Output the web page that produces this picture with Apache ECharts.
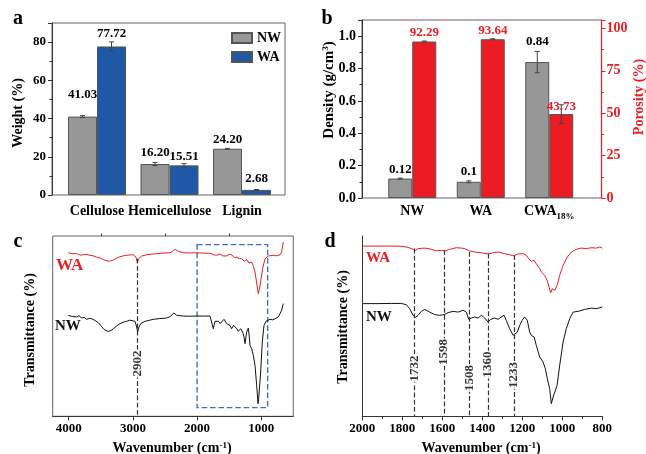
<!DOCTYPE html>
<html><head><meta charset="utf-8">
<script src="https://cdn.jsdelivr.net/npm/echarts@6/dist/echarts.min.js"></script>
<style>html,body{margin:0;padding:0;background:#fff}#c{width:646px;height:454px}</style>
</head><body><div id="c"></div>
<script>
const FONT = "'Liberation Serif','Times New Roman',serif";
const RED = '#ec1c24', GRAY = '#979797', BLUE = '#1e58a7', DARK = '#333';

// ---------- Panel a ----------
const categoriesA = ['Cellulose', 'Hemicellulose', 'Lignin'];
const nwA = [41.03, 16.20, 24.20];
const waA = [77.72, 15.51, 2.68];
const nwAErr = [0.5, 0.8, 0.2];
const waAErr = [2.4, 0.9, 0.2];

// ---------- Panel b ----------
const categoriesB = ['NW', 'WA', 'CWA'];
const categoriesBSub = ['', '', '18%'];
const densityB = [0.12, 0.10, 0.84];
const densityBErr = [0.003, 0.006, 0.066];
const densityBLabels = ['0.12', '0.1', '0.84'];
const porosityB = [92.29, 93.64, 49.5];
const porosityBErr = [0.3, 0.3, 5.5];
const porosityBLabels = ['92.29', '93.64', '43.73'];

// ---------- Panel c (FTIR full range) ----------
const cTicks = [1000, 2000, 3000, 4000];
const cMinorTicks = [1500, 2500, 3500];
const cWA = [[4006,90.7],[3950,90.2],[3876,90.2],[3820,89.4],[3772,89.6],[3720,89.8],[3669,89.3],[3620,89.0],[3565,88.3],[3510,87.8],[3461,86.9],[3420,86.3],[3383,86.1],[3340,86.2],[3305,86.7],[3250,87.8],[3201,88.5],[3150,89.0],[3097,89.3],[3040,89.5],[2993,89.6],[2952,88.3],[2931,85.2],[2910,87.4],[2863,88.9],[2785,89.6],[2700,90.0],[2630,90.2],[2530,90.5],[2422,90.7],[2380,91.5],[2344,92.6],[2292,91.5],[2214,90.7],[2120,90.6],[2017,90.7],[1900,90.5],[1798,90.4],[1740,89.6],[1695,89.3],[1643,90.0],[1600,89.0],[1539,88.9],[1500,89.8],[1461,89.6],[1420,88.0],[1383,88.3],[1340,87.5],[1305,87.4],[1260,86.0],[1227,87.0],[1190,85.0],[1149,85.6],[1120,83.0],[1097,80.0],[1061,71.7],[1045,68.0],[1019,72.6],[978,81.9],[941,87.4],[889,88.9],[811,89.3],[760,89.0],[707,89.6],[682,91.1],[656,96.7]];
const cNW = [[4006,56.0],[3950,55.4],[3876,55.1],[3840,55.8],[3798,54.5],[3760,54.9],[3721,53.8],[3680,54.3],[3643,54.1],[3591,53.2],[3539,51.9],[3500,50.3],[3461,48.6],[3420,47.5],[3383,47.1],[3340,47.6],[3305,48.6],[3250,50.2],[3201,51.4],[3150,52.2],[3097,52.7],[3050,53.3],[3019,53.8],[2967,52.7],[2941,49.5],[2926,46.7],[2905,49.5],[2879,51.4],[2811,52.7],[2750,53.2],[2682,53.8],[2580,54.2],[2474,54.5],[2420,55.3],[2396,56.0],[2360,57.3],[2318,56.0],[2214,55.6],[2100,55.5],[2017,55.6],[1900,55.6],[1798,55.6],[1772,54.5],[1747,48.6],[1720,52.7],[1669,52.7],[1640,51.5],[1617,50.4],[1580,53.8],[1539,51.4],[1510,52.0],[1487,50.4],[1461,48.6],[1430,50.5],[1409,49.5],[1380,48.5],[1357,47.1],[1320,48.6],[1289,46.7],[1265,43.5],[1253,40.3],[1227,46.7],[1201,48.9],[1185,44.0],[1175,39.3],[1149,37.5],[1123,33.8],[1097,28.3],[1071,17.2],[1050,7.0],[1040,9.5],[1030,8.8],[1009,24.6],[983,41.2],[957,50.4],[926,52.7],[900,53.5],[863,53.8],[820,53.5],[785,54.1],[760,54.6],[733,55.1],[707,54.5],[682,58.8],[656,62.5]];
const boxC = [[2000, 95.2], [900, 4.8]];
const peaksC = [2925];
const peaksCLabels = ['2902'];
const peaksCTop = [87.4];
const peaksCLabelY = [29.3];

// ---------- Panel d (FTIR 2000-800) ----------
const dWA = [[1996,94.4],[1921,94.4],[1855,94.4],[1805,94.3],[1771,93.7],[1746,92.6],[1735,92.0],[1721,93.0],[1688,93.3],[1655,92.6],[1630,91.8],[1605,92.0],[1585,91.7],[1563,92.6],[1530,93.5],[1505,93.3],[1488,93.0],[1463,91.7],[1438,91.1],[1405,90.7],[1371,90.0],[1346,90.7],[1321,91.1],[1288,90.2],[1263,89.6],[1241,88.9],[1225,90.0],[1196,90.2],[1180,89.3],[1168,87.4],[1155,85.9],[1141,86.5],[1130,84.6],[1113,81.9],[1105,80.0],[1096,80.9],[1088,78.2],[1076,75.4],[1066,71.7],[1058,68.5],[1050,70.8],[1038,69.8],[1026,72.6],[1013,78.2],[996,83.7],[975,88.3],[955,91.1],[930,92.6],[905,93.3],[880,93.0],[855,93.5],[830,93.3],[813,93.9],[800,93.3]];
const dNW = [[1996,62.5],[1921,62.5],[1855,62.6],[1805,62.6],[1780,61.9],[1763,59.7],[1746,56.0],[1735,54.9],[1721,56.0],[1705,58.2],[1688,59.3],[1663,57.8],[1638,56.4],[1613,56.0],[1591,56.4],[1571,57.5],[1546,58.2],[1521,57.8],[1496,58.8],[1480,57.8],[1468,53.8],[1455,54.5],[1438,55.1],[1421,54.5],[1405,56.0],[1388,54.5],[1371,52.3],[1358,53.8],[1338,54.5],[1321,53.8],[1305,55.1],[1291,56.0],[1280,53.2],[1263,48.6],[1246,44.9],[1238,44.0],[1225,46.7],[1213,50.4],[1201,53.2],[1188,55.1],[1175,53.2],[1163,46.7],[1155,44.9],[1141,44.0],[1130,39.3],[1113,32.9],[1096,30.1],[1085,26.4],[1075,20.9],[1063,15.3],[1055,7.0],[1046,10.7],[1038,9.8],[1026,17.2],[1013,28.3],[996,41.2],[980,48.6],[963,54.1],[946,57.8],[921,58.2],[888,59.3],[855,60.0],[830,59.7],[800,60.6]];
const peaksD = [1738, 1592, 1463, 1371, 1241];
const peaksDLabels = ['1732', '1598', '1508', '1360', '1233'];
const peaksDTop = [93.0, 92.1, 91.1, 90.2, 89.3];
const peaksDLabelY = [26.5, 35.7, 21.2, 28.7, 22.9];

// ---------- styles ----------
const gapNWA = [15, 4.5, 2.7], gapWAA = [6, 1.8, 4.6];
const gapDenB = [2.3, 3.8, 14.3], gapPorB = [2.9, 2.3, 1];
const bold = (size, color) => ({fontFamily: FONT, fontWeight: 'bold', fontSize: size, color: color || '#000'});
const plain = v => String(v);

function errSeries(xi, yi, vals, errs, side, bw) {
  return {
    type: 'custom', xAxisIndex: xi, yAxisIndex: yi, silent: true, z: 1,
    data: vals.map((v, i) => [i, v, errs[i]]),
    renderItem: (params, api) => {
      const i = api.value(0), v = api.value(1), e = api.value(2);
      const t = api.coord([i, v + e]), b = api.coord([i, v - e]);
      const x = t[0] + side * bw / 2, c = 2.5;
      const st = {stroke: '#444', lineWidth: 1};
      return {type: 'group', children: [
        {type: 'line', shape: {x1: x, y1: t[1], x2: x, y2: b[1]}, style: st},
        {type: 'line', shape: {x1: x - c, y1: t[1], x2: x + c, y2: t[1]}, style: st},
        {type: 'line', shape: {x1: x - c, y1: b[1], x2: x + c, y2: b[1]}, style: st}
      ]};
    }
  };
}
function barSeries(name, xi, yi, vals, color, bw, gaps, fmt, labelColor) {
  return {
    name, type: 'bar', xAxisIndex: xi, yAxisIndex: yi, barWidth: bw, barGap: '0%', z: 0,
    itemStyle: {color, borderColor: '#555', borderWidth: 1},
    data: vals.map((v, i) => ({value: v, label: {distance: gaps[i]}})),
    label: Object.assign({show: true, position: 'top', formatter: p => fmt(p.dataIndex)}, bold(13, labelColor))
  };
}
function peakLabelSeries(xi, yi, xs, ys, labels) {
  return {
    type: 'scatter', xAxisIndex: xi, yAxisIndex: yi, symbolSize: 0, silent: true, z: 10,
    data: xs.map((x, i) => [x, ys[i]]),
    label: Object.assign({show: true, position: 'inside', rotate: 90, backgroundColor: '#fff', padding: [0, 1],
      formatter: p => labels[p.dataIndex]}, bold(13))
  };
}
function peakLines(xs, tops) {
  return {
    silent: true, symbol: ['none', 'none'], animation: false,
    lineStyle: {type: 'dashed', color: DARK, width: 1.2},
    label: {show: false},
    data: xs.map((x, i) => [{coord: [x, tops[i]]}, {coord: [x, 0]}])
  };
}
function text(x, y, str, size, color, rot, align, rich) {
  return {type: 'text', x, y, rotation: rot || 0, z: 100,
    style: {text: str, fontFamily: FONT, fontWeight: 'bold', fontSize: size, fill: color || '#000',
      align: align || 'center', verticalAlign: 'middle', rich: rich || {}}};
}
const supRich = {sup: {fontFamily: FONT, fontWeight: 'bold', fontSize: 9, verticalAlign: 'top'}};

const option = {
  animation: false,
  backgroundColor: '#fff',
  grid: [
    {left: 52, top: 23, width: 233, height: 172, show: true, borderColor: '#666', borderWidth: 1},
    {left: 60.75, top: 23, width: 217.5, height: 172},
    {left: 362, top: 20, width: 239.5, height: 178, show: true, borderColor: '#666', borderWidth: 1},
    {left: 378, top: 20, width: 205.5, height: 178},
    {left: 52.7, top: 236, width: 240.6, height: 180.3, show: true, borderColor: '#666', borderWidth: 1},
    {left: 362.3, top: 236, width: 240, height: 180.3}
  ],
  xAxis: [
    {gridIndex: 0, type: 'value', min: 0, max: 1, show: false},
    {gridIndex: 1, type: 'category', data: categoriesA, axisLine: {show: false}, axisTick: {show: false},
      axisLabel: Object.assign({margin: 9, interval: 0, hideOverlap: false}, bold(14))},
    {gridIndex: 2, type: 'value', min: 0, max: 1, show: false},
    {gridIndex: 3, type: 'category', data: categoriesB, axisLine: {show: false}, axisTick: {show: false},
      axisLabel: {margin: 6, interval: 0, hideOverlap: false,
        formatter: (v, i) => categoriesBSub[i] ? '{m|' + v + '}{s|' + categoriesBSub[i] + '}' : '{m|' + v + '}',
        rich: {m: Object.assign({verticalAlign: 'top', lineHeight: 15}, bold(14)),
               s: Object.assign({verticalAlign: 'top', padding: [8, 0, 0, 0], lineHeight: 9}, bold(9))}}},
    {gridIndex: 4, type: 'value', inverse: true, min: 500, max: 4250, splitLine: {show: false},
      axisLine: {lineStyle: {color: DARK}}, axisTick: {customValues: cTicks, length: 4, lineStyle: {color: DARK}},
      axisLabel: Object.assign({customValues: cTicks, margin: 6, formatter: plain}, bold(13))},
    {gridIndex: 4, type: 'value', inverse: true, min: 500, max: 4250, splitLine: {show: false},
      axisLine: {show: false}, axisTick: {customValues: cMinorTicks, length: 2.5, lineStyle: {color: DARK}},
      axisLabel: {show: false, customValues: cMinorTicks}},
    {gridIndex: 5, type: 'value', inverse: true, min: 800, max: 2000, interval: 200, splitLine: {show: false},
      axisLine: {lineStyle: {color: DARK}}, axisTick: {length: 4, lineStyle: {color: DARK}},
      minorTick: {show: true, splitNumber: 2, length: 2.5, lineStyle: {color: DARK}},
      axisLabel: Object.assign({margin: 6, formatter: plain}, bold(13))}
  ],
  yAxis: [
    {gridIndex: 0, type: 'value', min: 0, max: 90, interval: 20, splitLine: {show: false},
      axisLine: {show: true, lineStyle: {color: DARK}}, axisTick: {length: 4, lineStyle: {color: DARK}},
      minorTick: {show: true, splitNumber: 2, length: 2.5, lineStyle: {color: DARK}},
      axisLabel: Object.assign({margin: 6, showMaxLabel: false}, bold(13))},
    {gridIndex: 1, type: 'value', min: 0, max: 90, show: false},
    {gridIndex: 2, type: 'value', min: 0, max: 1.1, interval: 0.2, splitLine: {show: false},
      axisLine: {show: true, lineStyle: {color: DARK}}, axisTick: {length: 4, lineStyle: {color: DARK}},
      minorTick: {show: true, splitNumber: 2, length: 2.5, lineStyle: {color: DARK}},
      axisLabel: Object.assign({margin: 6, showMaxLabel: false, formatter: v => v.toFixed(1)}, bold(14))},
    {gridIndex: 2, type: 'value', position: 'right', min: 0, max: 105, interval: 25, splitLine: {show: false},
      axisLine: {show: true, lineStyle: {color: RED, width: 1.2}}, axisTick: {length: 4, lineStyle: {color: RED}},
      minorTick: {show: true, splitNumber: 2, length: 2.5, lineStyle: {color: RED}},
      axisLabel: Object.assign({margin: 5, showMaxLabel: false}, bold(14, RED))},
    {gridIndex: 3, type: 'value', min: 0, max: 1.1, show: false},
    {gridIndex: 3, type: 'value', min: 0, max: 105, show: false},
    {gridIndex: 4, type: 'value', min: 0, max: 100, show: false},
    {gridIndex: 5, type: 'value', min: 0, max: 100, splitLine: {show: false},
      axisLine: {show: true, lineStyle: {color: DARK}}, axisTick: {show: false}, axisLabel: {show: false}}
  ],
  legend: {data: ['NW', 'WA'], left: 231, top: 31, orient: 'vertical', itemWidth: 20, itemHeight: 10, itemGap: 5,
    icon: 'rect', textStyle: bold(14), padding: 0},
  series: [
    barSeries('NW', 1, 1, nwA, GRAY, 29, gapNWA, i => nwA[i].toFixed(2)),
    barSeries('WA', 1, 1, waA, BLUE, 29, gapWAA, i => waA[i].toFixed(2)),
    errSeries(1, 1, nwA, nwAErr, -1, 29),
    errSeries(1, 1, waA, waAErr, 1, 29),
    barSeries('Density', 3, 4, densityB, GRAY, 24, gapDenB, i => densityBLabels[i]),
    barSeries('Porosity', 3, 5, porosityB, RED, 24, gapPorB, i => porosityBLabels[i], RED),
    errSeries(3, 4, densityB, densityBErr, -1, 24),
    errSeries(3, 5, porosityB, porosityBErr, 1, 24),
    {type: 'line', xAxisIndex: 4, yAxisIndex: 6, data: cWA, symbol: 'none', lineStyle: {color: RED, width: 1},
      markArea: {silent: true, itemStyle: {color: 'rgba(0,0,0,0)', borderColor: '#3d6fd0', borderWidth: 1.4, borderType: 'dashed'},
        data: [[{coord: boxC[0]}, {coord: boxC[1]}]]}},
    {type: 'line', xAxisIndex: 4, yAxisIndex: 6, data: cNW, symbol: 'none', lineStyle: {color: '#111', width: 1},
      markLine: peakLines(peaksC, peaksCTop)},
    peakLabelSeries(4, 6, peaksC, peaksCLabelY, peaksCLabels),
    {type: 'line', xAxisIndex: 6, yAxisIndex: 7, data: dWA, symbol: 'none', lineStyle: {color: RED, width: 1},
      markLine: peakLines(peaksD, peaksDTop)},
    {type: 'line', xAxisIndex: 6, yAxisIndex: 7, data: dNW, symbol: 'none', lineStyle: {color: '#111', width: 1}},
    peakLabelSeries(6, 7, peaksD, peaksDLabelY, peaksDLabels)
  ],
  graphic: [
    text(18, 19, 'a', 20), text(327, 19, 'b', 20), text(18, 242, 'c', 20), text(330, 242, 'd', 20),
    text(18, 113, 'Weight (%)', 14, '#000', Math.PI / 2),
    text(329, 90, 'Density (g/cm{sup|3})', 15, '#000', Math.PI / 2, 'center', supRich),
    text(639, 97, 'Porosity (%)', 14, RED, Math.PI / 2),
    text(30, 330, 'Transmittance (%)', 14, '#000', Math.PI / 2),
    text(343, 327, 'Transmittance (%)', 14, '#000', Math.PI / 2),
    text(172, 448, 'Wavenumber (cm{sup|-1})', 14, '#000', 0, 'center', supRich),
    text(481, 448, 'Wavenumber (cm{sup|-1})', 14, '#000', 0, 'center', supRich),
    text(56, 266, 'WA', 17, RED, 0, 'left'),
    text(55, 326, 'NW', 15, '#111', 0, 'left'),
    text(366, 258, 'WA', 15, RED, 0, 'left'),
    text(366, 317, 'NW', 15, '#111', 0, 'left')
  ]
};
const chart = echarts.init(document.getElementById('c'), null, {renderer: 'canvas'});
chart.setOption(option);
</script></body></html>
